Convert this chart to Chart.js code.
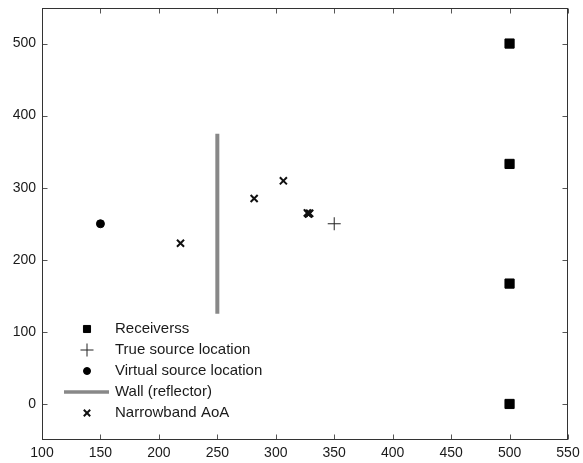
<!DOCTYPE html>
<html><head><meta charset="utf-8">
<script src="https://cdn.jsdelivr.net/npm/chart.js@4/dist/chart.umd.min.js"></script>
<style>html,body{margin:0;padding:0;background:#fff}#wrap{width:583px;height:463px}</style>
</head><body><div id="wrap"><canvas id="c" width="583" height="463"></canvas></div>
<script>
const xTicks = [100,150,200,250,300,350,400,450,500,550];
const yTicks = [0,100,200,300,400,500];
const receiversX = [500,500,500,500];
const receiversY = [500,333,167,0];
const trueSourceX = [350];
const trueSourceY = [250];
const virtualSourceX = [150];
const virtualSourceY = [250];
const wallX = [250,250];
const wallY = [125,375];
const aoaX = [218.5,281.5,306.5,327,328,329,328];
const aoaY = [223,285,309.5,265,264,264.5,263.5];
const labels = ['Receiverss','True source location','Virtual source location','Wall (reflector)','Narrowband AoA'];

const pts = (xs, ys) => xs.map((x,i)=>({x:x, y:ys[i]}));
const FONT = "'Liberation Sans', Arial, Helvetica, sans-serif";

const datasets = [
  {label: labels[0], data: pts(receiversX, receiversY), pointStyle:'rect', pointRadius:6.5, backgroundColor:'#000', borderColor:'#000', borderWidth:1},
  {label: labels[1], data: pts(trueSourceX, trueSourceY), pointStyle:'cross', pointRadius:6.5, backgroundColor:'#000', borderColor:'#222', borderWidth:1},
  {label: labels[2], data: pts(virtualSourceX, virtualSourceY), pointStyle:'circle', pointRadius:4, backgroundColor:'#000', borderColor:'#000', borderWidth:1},
  {label: labels[3], data: pts(wallX, wallY), showLine:true, pointRadius:0, borderColor:'#888', borderWidth:4, backgroundColor:'#888', _legendLine:true},
  {label: labels[4], data: pts(aoaX, aoaY), pointStyle:'crossRot', pointRadius:5, backgroundColor:'#000', borderColor:'#111', borderWidth:2}
];

const framePlugin = {
  id:'frame',
  afterDraw(chart){
    const ctx = chart.ctx, a = chart.chartArea;
    const xs = chart.scales.x, ys = chart.scales.y;
    ctx.save();
    ctx.strokeStyle = '#555';
    ctx.lineWidth = 1;
    const L = Math.round(a.left)+0.5, R = Math.round(a.right)-0.5, T = Math.round(a.top)+0.5, B = Math.round(a.bottom)-0.5;
    ctx.beginPath();
    xTicks.forEach(v=>{
      const px = Math.round(xs.getPixelForValue(v))+0.5;
      ctx.moveTo(px, B); ctx.lineTo(px, B-5);
      ctx.moveTo(px, T); ctx.lineTo(px, T+5);
    });
    yTicks.forEach(v=>{
      const py = Math.round(ys.getPixelForValue(v))+0.5;
      ctx.moveTo(L, py); ctx.lineTo(L+5, py);
      ctx.moveTo(R, py); ctx.lineTo(R-5, py);
    });
    ctx.stroke();
    ctx.strokeStyle = '#333';
    ctx.strokeRect(L, T, R-L, B-T);
    ctx.restore();
  }
};

const legendPlugin = {
  id:'customLegend',
  afterDraw(chart){
    const ctx = chart.ctx, a = chart.chartArea;
    const mx = a.left + 45, tx = a.left + 73;
    let y = a.bottom - 111;
    ctx.save();
    ctx.font = '15px ' + FONT;
    ctx.textBaseline = 'middle';
    ctx.textAlign = 'left';
    chart.data.datasets.forEach(ds=>{
      if (ds._legendLine){
        ctx.strokeStyle = ds.borderColor; ctx.lineWidth = 3.5;
        ctx.beginPath(); ctx.moveTo(a.left+22, y); ctx.lineTo(a.left+67, y); ctx.stroke();
      } else {
        const r = ds.pointStyle==='rect' ? 5 : ds.pointStyle==='circle' ? 3.5 : ds.pointStyle==='cross' ? 6.5 : 4.5;
        ctx.fillStyle = ds.backgroundColor; ctx.strokeStyle = ds.borderColor; ctx.lineWidth = ds.borderWidth;
        Chart.helpers.drawPoint(ctx, {pointStyle: ds.pointStyle, radius: r, rotation:0, borderWidth: ds.borderWidth}, mx, y);
      }
      ctx.fillStyle = '#1a1a1a';
      ctx.fillText(ds.label, tx, y);
      y += 21;
    });
    ctx.restore();
  }
};

const zeroPad = s => { s.paddingTop = 0; s.paddingBottom = 0; s.paddingLeft = 0; s.paddingRight = 0; };

new Chart(document.getElementById('c'), {
  type:'scatter',
  data:{datasets},
  options:{
    responsive:false,
    animation:false,
    layout:{padding:{top:7,right:15,left:0,bottom:0}},
    plugins:{legend:{display:false}, tooltip:{enabled:false}},
    scales:{
      x:{type:'linear', min:100, max:550,
        afterBuildTicks:s=>{s.ticks = xTicks.map(v=>({value:v}));},
        afterFit:s=>{s.height = 23; zeroPad(s);},
        grid:{display:false, drawTicks:false}, border:{display:false},
        ticks:{font:{family:FONT,size:14}, color:'#1a1a1a', padding:5, maxRotation:0, autoSkip:false}},
      y:{type:'linear', min:-50, max:550,
        afterBuildTicks:s=>{s.ticks = yTicks.map(v=>({value:v}));},
        afterFit:s=>{s.width = 42; zeroPad(s);},
        grid:{display:false, drawTicks:false}, border:{display:false},
        ticks:{font:{family:FONT,size:14}, color:'#1a1a1a', padding:6, autoSkip:false}}
    }
  },
  plugins:[framePlugin, legendPlugin]
});
</script></body></html>
